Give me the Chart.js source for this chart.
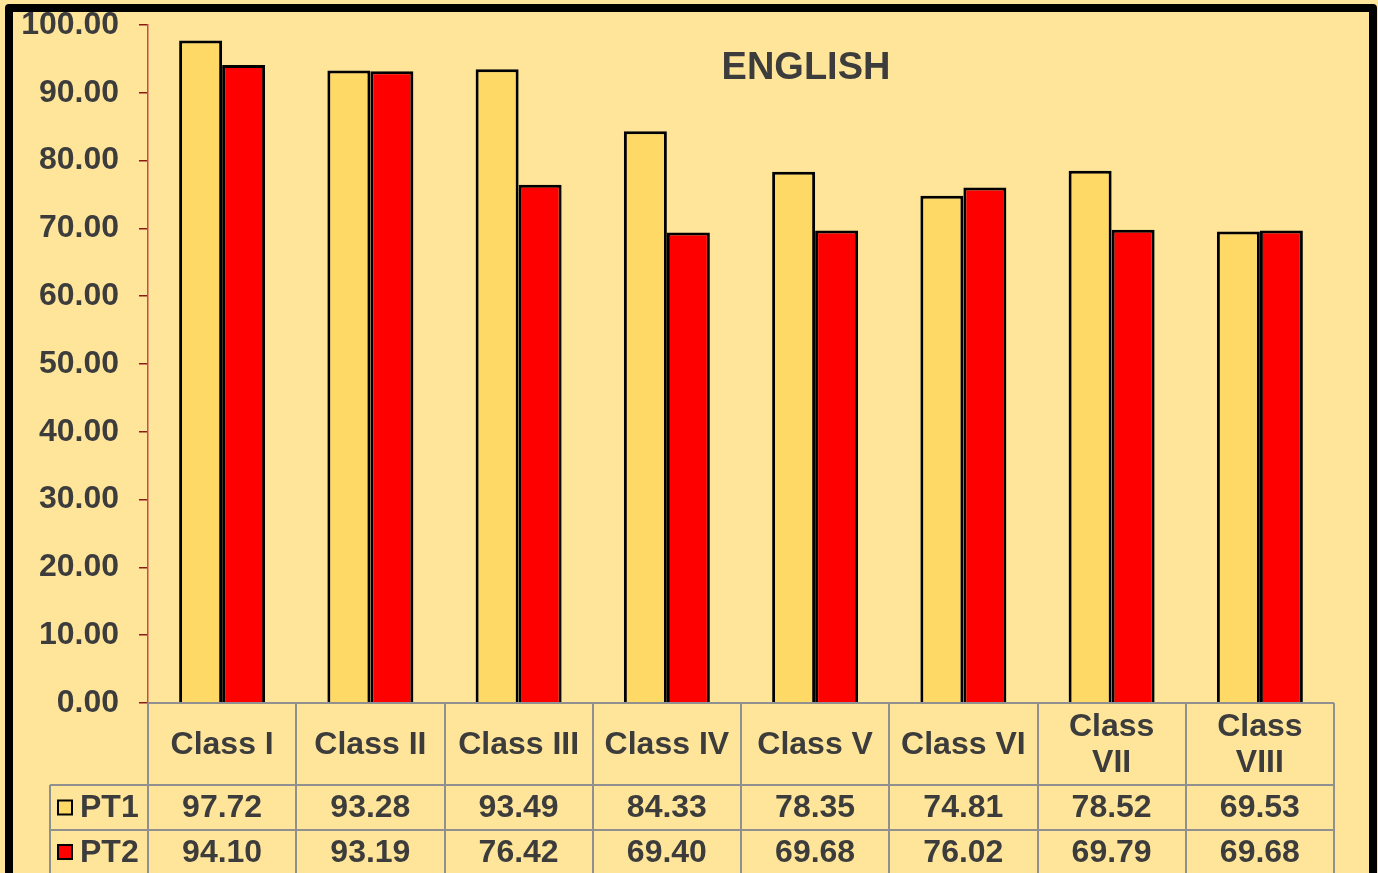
<!DOCTYPE html>
<html>
<head>
<meta charset="utf-8">
<script src="https://cdn.jsdelivr.net/npm/chart.js@4.4.0/dist/chart.umd.min.js"></script>
<style>
html,body{margin:0;padding:0;background:#FFE599;}
#wrap{position:relative;width:1378px;height:873px;}
</style>
</head>
<body>
<div id="wrap"><canvas id="c" width="1378" height="873"></canvas></div>
<script>
const chartTitle = "ENGLISH";
const categories = [["Class I"],["Class II"],["Class III"],["Class IV"],["Class V"],["Class VI"],["Class","VII"],["Class","VIII"]];
const seriesNames = ["PT1","PT2"];
const pt1 = [97.72, 93.28, 93.49, 84.33, 78.35, 74.81, 78.52, 69.53];
const pt2 = [94.10, 93.19, 76.42, 69.40, 69.68, 76.02, 69.79, 69.68];
const seriesColors = ["#FFD966", "#FF0000"];
const textColor = "#3C3C3C";
const FONT = "'Liberation Sans', Arial, sans-serif";

const tablePlugin = {
  id: 'tablePlugin',
  beforeDraw(chart) {
    const ctx = chart.ctx;
    ctx.save();
    ctx.fillStyle = '#FFE599';
    ctx.fillRect(0, 0, chart.width, chart.height);
    ctx.restore();
  },
  afterDraw(chart) {
    const ctx = chart.ctx;
    const xs = chart.scales.x;
    const ca = chart.chartArea;
    const n = categories.length;
    const cw = (ca.right - ca.left) / n;
    const top = ca.bottom;
    const r1 = top + 82, r2 = r1 + 45, r3 = r2 + 48;
    const legLeft = 50;
    ctx.save();
    ctx.strokeStyle = '#909090';
    ctx.lineWidth = 2;
    ctx.beginPath();
    ctx.moveTo(ca.left, top); ctx.lineTo(ca.right, top);
    ctx.moveTo(legLeft, r1); ctx.lineTo(ca.right, r1);
    ctx.moveTo(legLeft, r2); ctx.lineTo(ca.right, r2);
    ctx.moveTo(legLeft, r1); ctx.lineTo(legLeft, r3);
    for (let i = 0; i <= n; i++) {
      const x = Math.round(ca.left + i * cw);
      ctx.moveTo(x, top); ctx.lineTo(x, r3);
    }
    ctx.stroke();
    ctx.fillStyle = textColor;
    ctx.font = "bold 32px " + FONT;
    ctx.textAlign = 'center';
    ctx.textBaseline = 'middle';
    for (let i = 0; i < n; i++) {
      const cx = xs.getPixelForValue(i);
      const lab = categories[i];
      if (lab.length === 1) {
        ctx.fillText(lab[0], cx, (top + r1) / 2 + 1);
      } else {
        ctx.fillText(lab[0], cx, top + 24);
        ctx.fillText(lab[1], cx, top + 60);
      }
      ctx.fillText(pt1[i].toFixed(2), cx, (r1 + r2) / 2 + 1);
      ctx.fillText(pt2[i].toFixed(2), cx, (r2 + r3) / 2 - 1);
    }
    const rows = [[(r1 + r2) / 2, 0], [(r2 + r3) / 2 - 2, 1]];
    rows.forEach(([cy, k]) => {
      ctx.fillStyle = seriesColors[k];
      ctx.fillRect(58, cy - 7, 14, 14);
      ctx.strokeStyle = '#000';
      ctx.lineWidth = 2;
      ctx.strokeRect(58, cy - 7, 14, 14);
      ctx.fillStyle = textColor;
      ctx.textAlign = 'left';
      ctx.fillText(seriesNames[k], 80, cy + 1);
    });
    ctx.font = "bold 38px " + FONT;
    ctx.textAlign = 'center';
    ctx.fillStyle = textColor;
    ctx.fillText(chartTitle, 806, 69);
    ctx.strokeStyle = '#000';
    ctx.lineWidth = 8;
    ctx.lineJoin = 'round';
    ctx.strokeRect(9, 8, 1364, 869);
    ctx.restore();
  }
};

new Chart(document.getElementById('c'), {
  type: 'bar',
  data: {
    labels: categories,
    datasets: [
      { label: seriesNames[0], data: pt1, backgroundColor: seriesColors[0], borderColor: '#000', borderWidth: 3, categoryPercentage: 0.58, barPercentage: 1.0 },
      { label: seriesNames[1], data: pt2, backgroundColor: seriesColors[1], borderColor: '#000', borderWidth: 3, categoryPercentage: 0.58, barPercentage: 1.0 }
    ]
  },
  options: {
    responsive: false,
    animation: false,
    devicePixelRatio: 1,
    layout: { padding: { left: 0, right: 44, top: 25, bottom: 170 } },
    plugins: { legend: { display: false }, title: { display: false }, tooltip: { enabled: false } },
    scales: {
      x: { display: false },
      y: {
        min: 0, max: 100,
        afterFit(scale) { scale.width = 148; scale.paddingTop = 0; scale.paddingBottom = 0; },
        ticks: {
          stepSize: 10,
          padding: 20,
          color: textColor,
          font: { family: FONT, size: 32, weight: 'bold' },
          callback: v => Number(v).toFixed(2)
        },
        grid: { drawOnChartArea: false, drawTicks: true, tickLength: 9, color: '#8B1A1A', lineWidth: 1.5 },
        border: { display: true, color: '#C0504D', width: 1.5 }
      }
    }
  },
  plugins: [tablePlugin]
});
</script>
</body>
</html>
